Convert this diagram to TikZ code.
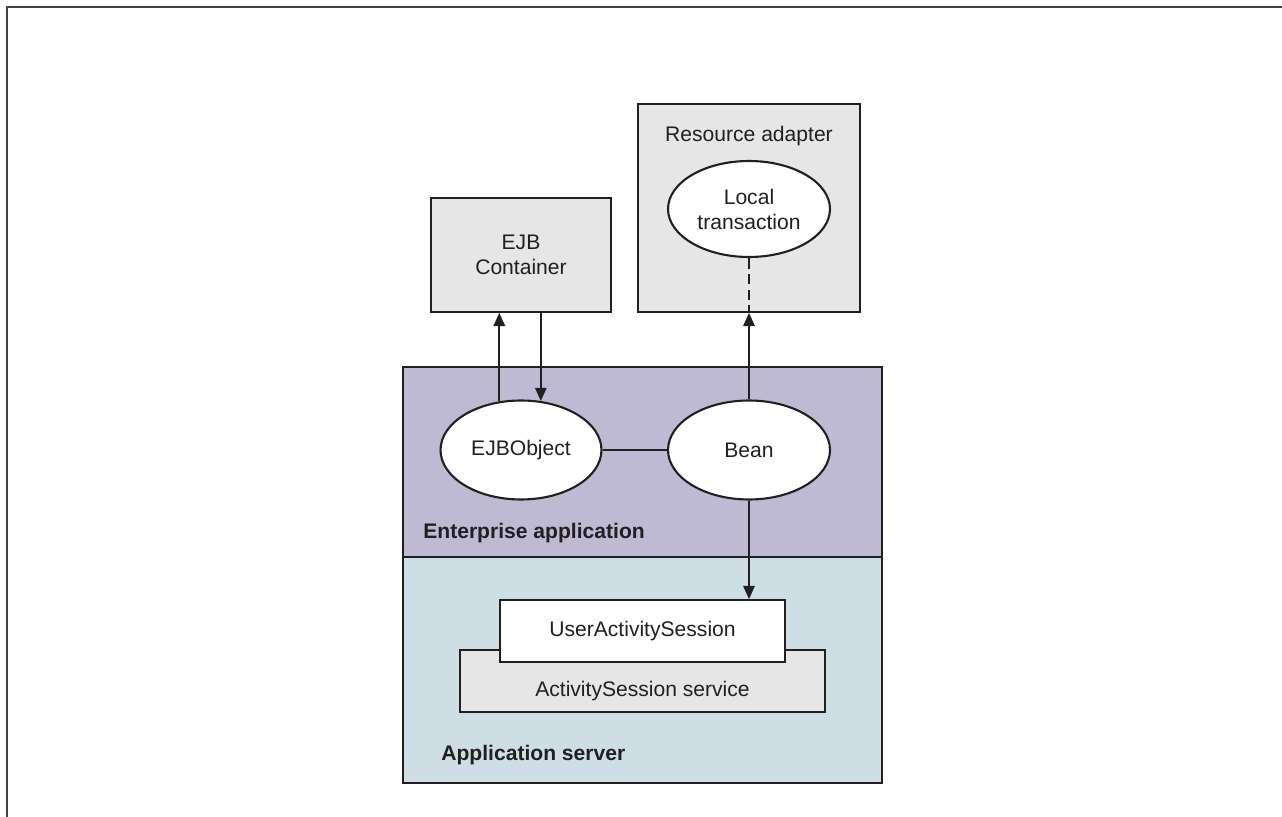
\documentclass[tikz,border=0pt]{standalone}
\usepackage{fontspec}
\setmainfont{Liberation Sans}
\usetikzlibrary{arrows.meta,shapes.geometric}
\definecolor{lavfill}{RGB}{190,186,211}
\definecolor{srvfill}{RGB}{205,223,229}
\definecolor{boxgrey}{RGB}{230,230,230}
\definecolor{inkline}{RGB}{35,31,32}

\begin{document}
\begin{tikzpicture}[x=0.02cm,y=-0.02cm,
    font=\fontsize{12}{14.2}\selectfont,
    every node/.style={text=inkline},
    layer/.style={draw=inkline,line width=1pt,rectangle,inner sep=0pt},
    greybox/.style={draw=inkline,fill=boxgrey,line width=1pt,rectangle,inner sep=0pt,align=center},
    oval/.style={draw=inkline,fill=white,line width=1.2pt,ellipse,inner sep=0pt,align=center},
    arr/.style={draw=inkline,line width=1pt,-{Triangle[length=7.5pt,width=6.5pt]}},
    plain/.style={draw=inkline,line width=1pt},
    boldlbl/.style={anchor=west,inner sep=0pt,font=\fontsize{12}{14.2}\selectfont\bfseries}]
    \useasboundingbox (0,0) rectangle (1282,817);
    % outer frame
    \draw[line width=0.9pt,inkline!85] (7,817)--(7,7)--(1282,7);
    % layers
    \node[layer,fill=lavfill,minimum width=9.58cm,minimum height=3.8cm] (entapp) at (642.5,462) {};
    \node[layer,fill=srvfill,minimum width=9.58cm,minimum height=4.52cm] (appsrv) at (642.5,670) {};
    \node[boldlbl] (entlbl) at (423,533) {Enterprise application};
    \node[boldlbl] (srvlbl) at (441,755) {Application server};
    % boxes above
    \node[greybox,minimum width=3.6cm,minimum height=2.28cm] (ejbc) at (521,255) {EJB\\Container};
    \node[greybox,minimum width=4.44cm,minimum height=4.16cm] (resad) at (749,208) {};
    \node (reslbl) at (749,136) {Resource adapter};
    \node[oval,minimum width=3.24cm,minimum height=1.92cm] (loctx) at (749,209) {Local\\transaction};
    % ovals in the application
    \node[oval,minimum width=3.22cm,minimum height=1.98cm] (ejbobj) at (521,450) {EJBObject};
    \node[oval,minimum width=3.24cm,minimum height=1.98cm] (bean) at (749,450) {Bean};
    % service stack
    \node[greybox,minimum width=7.3cm,minimum height=1.24cm] (svc) at (642.5,681) {};
    \node (svclbl) at (642.5,691) {ActivitySession service};
    \node[greybox,fill=white,minimum width=5.7cm,minimum height=1.24cm] (uas) at (642.5,631) {UserActivitySession};
    % connectors
    \draw[arr] (ejbobj.114) -- (ejbobj.114 |- ejbc.south);
    \draw[arr] (ejbobj.68 |- ejbc.south) -- (ejbobj.68);
    \draw[plain] (ejbobj) -- (bean);
    \draw[arr] (bean.north) -- (resad.south);
    \draw[plain,dash pattern=on 6pt off 3pt] (loctx.south) -- (resad.south);
    \draw[arr] (bean.south) -- (bean.south |- uas.north);
\end{tikzpicture}
\end{document}
